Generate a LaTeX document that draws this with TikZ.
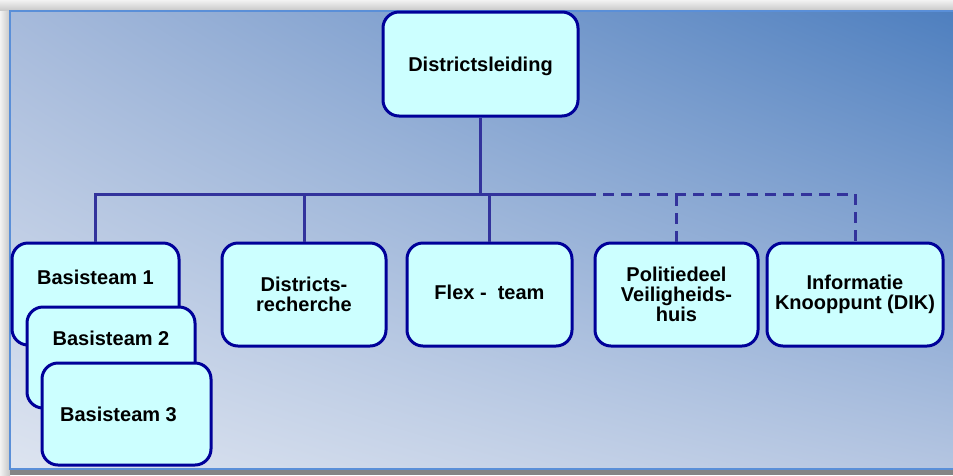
\documentclass[tikz,border=0pt]{standalone}
\usepackage{fontspec}
\setmainfont{Liberation Sans}
\usetikzlibrary{positioning,shadings}
\definecolor{boxfill}{HTML}{CCFFFF}
\definecolor{boxline}{HTML}{000099}
\definecolor{wire}{HTML}{33339C}
\definecolor{frameline}{HTML}{5A8FD8}
\definecolor{bgul}{HTML}{A6BADB}
\definecolor{bgur}{HTML}{4E7FBF}
\definecolor{bgll}{HTML}{DDE4F0}
\definecolor{bglr}{HTML}{B4C5E1}
\begin{document}
\begin{tikzpicture}[x=1pt,y=-1pt,font=\bfseries\fontsize{20}{20}\selectfont,
  unit/.style={draw=boxline,line width=3pt,rounded corners=16pt,fill=boxfill,align=center,
    inner sep=0pt,minimum width=165pt,minimum height=103pt},
  link/.style={draw=wire,line width=3pt},
  dotlink/.style={link,dash pattern=on 11pt off 7pt}]
\useasboundingbox (0,0) rectangle (953,475);
% frame and shadow
\shade[top color=gray!10,bottom color=gray!45] (0,0) rectangle (953,11);
\shade[left color=gray!10,right color=gray!45] (0,11) rectangle (10,475);
\fill[black!48] (10,469) rectangle (953,475);
\shade[upper left=bgul,upper right=bgur,lower left=bgll,lower right=bglr] (10,11) rectangle (953,469);
\draw[frameline,line width=2pt] (953,11) -- (10,11) -- (10,469) -- (953,469);
% boxes
\node[unit,minimum width=195pt,minimum height=104pt,text depth=0pt] (lead) at (480.5,64) {Districtsleiding};
\node[unit,minimum width=167pt,minimum height=102pt,text depth=34pt] (bt1) at (95.5,294) {Basisteam 1};
\node[unit,minimum width=168pt,minimum height=101pt,text depth=39pt] (bt2) at (111,357.5) {Basisteam 2};
\node[unit,minimum width=169pt,minimum height=102pt] (bt3) at (126.5,414) {Basisteam 3\hspace*{16pt}};
\node[unit,minimum width=164pt] (rech) at (304,294.5) {Districts-\\recherche};
\node[unit,text depth=4pt] (flex) at (489.5,294.5) {Flex -\ \ team};
\node[unit,minimum width=163pt] (pol) at (676.5,294.5) {Politiedeel\\Veiligheids-\\huis};
\node[unit,minimum width=176pt] (info) at (855,294.5) {Informatie\\Knooppunt (DIK)};
% connectors
\coordinate (junction) at (lead.south |- 0,194);
\coordinate (split) at (585,194);
\draw[link] (lead.south) -- (junction);
\draw[link] (bt1.north) |- (split);
\draw[link] (rech.north) -- (rech.north |- junction);
\draw[link] (flex.north) -- (flex.north |- junction);
\draw[dotlink] (split) -| (info.north);
\draw[dotlink] (pol.north) -- (pol.north |- junction);
\end{tikzpicture}
\end{document}
